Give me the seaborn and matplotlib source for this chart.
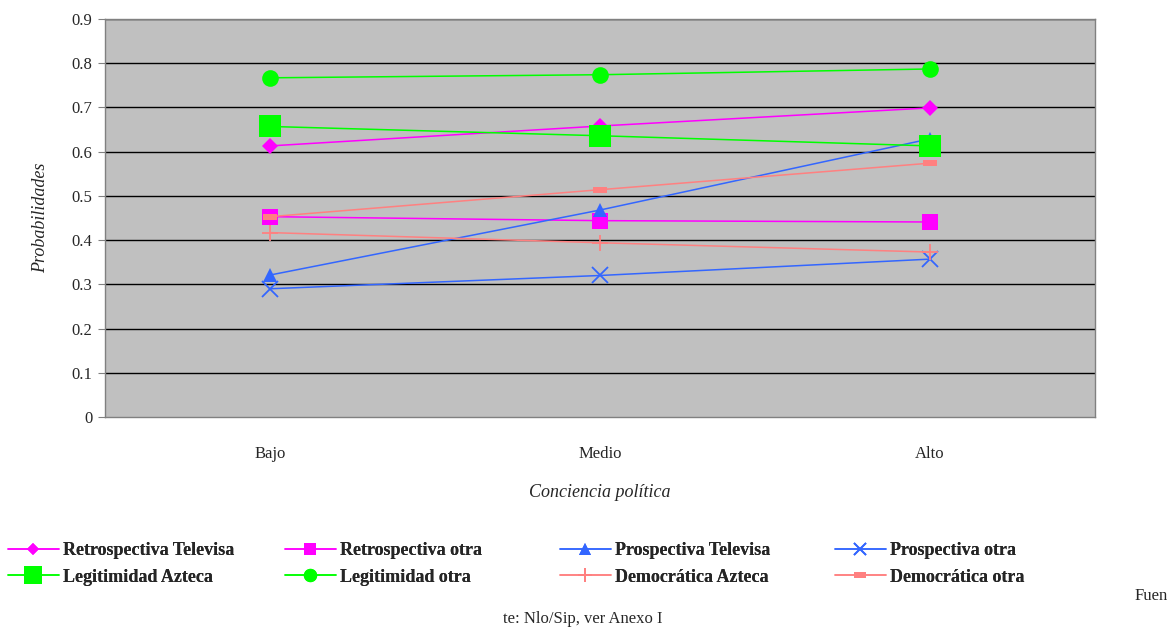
import matplotlib
matplotlib.use("Agg")
import matplotlib.pyplot as plt
import seaborn as sns
import pandas as pd
import numpy as np

categorias = ["Bajo", "Medio", "Alto"]

retro_televisa = [0.613, 0.658, 0.699]
retro_otra = [0.453, 0.444, 0.441]
pros_televisa = [0.321, 0.468, 0.629]
pros_otra = [0.290, 0.320, 0.357]
legit_azteca = [0.657, 0.636, 0.613]
legit_otra = [0.767, 0.774, 0.787]
demo_azteca = [0.417, 0.394, 0.373]
demo_otra = [0.453, 0.514, 0.574]

series = [
    ("Retrospectiva Televisa", retro_televisa),
    ("Retrospectiva otra", retro_otra),
    ("Prospectiva Televisa", pros_televisa),
    ("Prospectiva otra", pros_otra),
    ("Legitimidad Azteca", legit_azteca),
    ("Legitimidad otra", legit_otra),
    ("Democrática Azteca", demo_azteca),
    ("Democrática otra", demo_otra),
]

MAG, BLUE, GREEN, SALMON = "#FF00FF", "#3366FF", "#00FF00", "#FF8080"
rect = [(-1, -0.5), (1, -0.5), (1, 0.5), (-1, 0.5), (-1, -0.5)]
styles = {
    "Retrospectiva Televisa": dict(color=MAG, marker="D", ms=8),
    "Retrospectiva otra": dict(color=MAG, marker="s", ms=11),
    "Prospectiva Televisa": dict(color=BLUE, marker="^", ms=10),
    "Prospectiva otra": dict(color=BLUE, marker="x", ms=11, mew=1.3),
    "Legitimidad Azteca": dict(color=GREEN, marker="s", ms=16),
    "Legitimidad otra": dict(color=GREEN, marker="o", ms=12),
    "Democrática Azteca": dict(color=SALMON, marker="+", ms=12, mew=1.3),
    "Democrática otra": dict(color=SALMON, marker=rect, ms=10),
}

sns.set_style("white")
plt.rcParams["font.family"] = ["Liberation Serif", "DejaVu Serif"]

fig = plt.figure(figsize=(11.67, 6.28), dpi=100)
ax = fig.add_axes([105 / 1167, 1 - 417 / 628, 990 / 1167, 398 / 628])
ax.set_facecolor("#C0C0C0")

x_pos = np.arange(len(categorias))
for nombre, vals in series:
    st = styles[nombre]
    df = pd.DataFrame({"x": x_pos, "y": vals})
    sns.lineplot(data=df, x="x", y="y", ax=ax, color=st["color"],
                 marker=st["marker"], markersize=st["ms"],
                 markeredgewidth=st.get("mew", 0),
                 markeredgecolor=st["color"], linewidth=1.1,
                 label=nombre, zorder=3)

ax.set_xlim(-0.5, 2.5)
ax.set_ylim(0, 0.9)
ax.set_yticks(np.arange(0, 0.91, 0.1))
ax.set_yticklabels(["0"] + [f"{v:.1f}" for v in np.arange(0.1, 0.91, 0.1)],
                   fontsize=12)
ax.set_xticks(x_pos)
ax.set_xticklabels(categorias, fontsize=12)
ax.tick_params(axis="x", length=0, pad=21)
ax.set_xticks([0.5, 1.5], minor=True)
ax.tick_params(axis="x", which="minor", length=5, color="#808080", direction="out")
ax.tick_params(axis="y", length=5, color="#808080", direction="out", pad=4, left=True)
for y in np.arange(0.1, 0.91, 0.1):
    ax.axhline(y, color="black", linewidth=1, zorder=1)
for s in ax.spines.values():
    s.set_color("#808080")
    s.set_linewidth(1)

ax.set_xlabel("Conciencia política", fontsize=13, style="italic", labelpad=16)
ax.set_ylabel("Probabilidades", fontsize=13, style="italic", labelpad=16)

handles, labels = ax.get_legend_handles_labels()
ax.legend_.remove()

# legend laid out row by row: four columns, two rows
col_x = [8, 285, 560, 835]
for c, x0 in enumerate(col_x):
    idx = [c, c + 4]
    leg = fig.legend([handles[i] for i in idx], [labels[i] for i in idx],
                     loc="center left",
                     bbox_to_anchor=(x0 / 1167, 1 - 564 / 628),
                     frameon=False, markerscale=0.8,
                     prop=dict(family="Liberation Serif", weight="bold", size=13),
                     handlelength=2.8, handletextpad=0.25,
                     labelspacing=0.5, borderaxespad=0, borderpad=0)
    fig.add_artist(leg)

fig.text(1135 / 1167, 1 - 596 / 628, "Fuen", fontsize=12, ha="left", va="center")
fig.text(583 / 1167, 1 - 619 / 628, "te: Nlo/Sip, ver Anexo I", fontsize=12,
         ha="center", va="center")

fig.savefig("out.png", dpi=100)
